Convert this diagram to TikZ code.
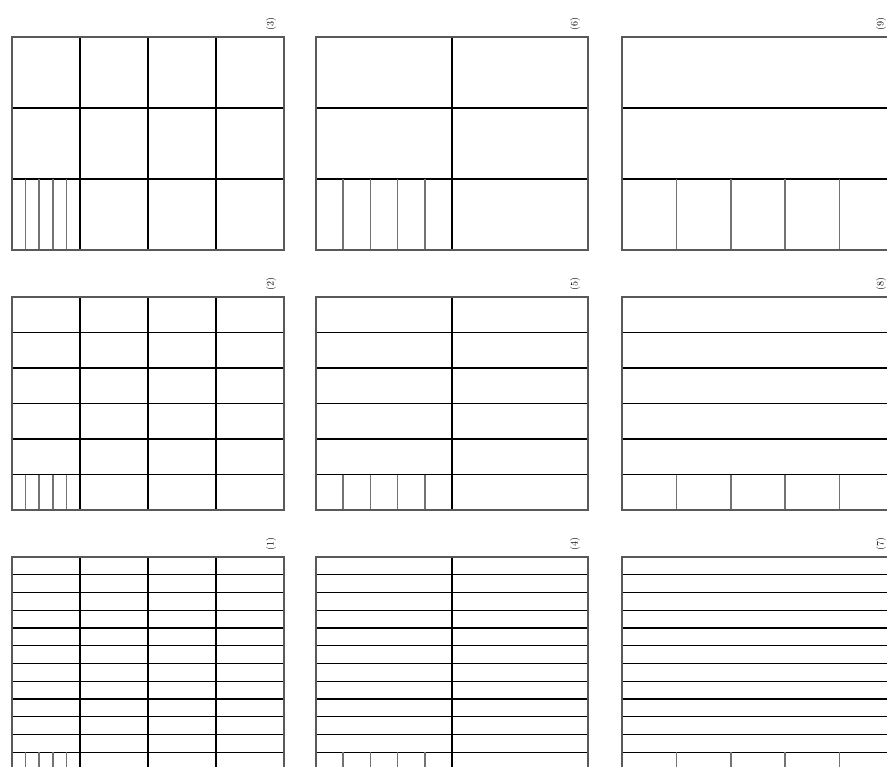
\documentclass[tikz,border=0pt]{standalone}
\usetikzlibrary{positioning}
\tikzset{
  frame/.style={draw=black!65, line width=1.9pt},
  gridline/.style={draw=black, line width=1.3pt},
  subline/.style={draw=black!55, line width=1.5pt},
  tag/.style={font=\normalsize, rotate=90, inner sep=1pt}
}
\begin{document}
\begin{tikzpicture}[x=1pt,y=-1pt]
\useasboundingbox (0,0) rectangle (887,767);
\clip (0,0) rectangle (887,767);
% panels: x, number of columns / y, number of rows
\foreach \ci/\x/\nc in {0/12/4,1/316/2,2/622/1}{
  \foreach \ri/\y/\nr in {0/37/3,1/297/6,2/557/12}{
    \pgfmathsetmacro{\cw}{272/\nc}
    \pgfmathsetmacro{\rh}{213/\nr}
    \pgfmathtruncatemacro{\nrm}{\nr-1}
    \pgfmathtruncatemacro{\num}{3*\ci+3-\ri}
    % rows
    \foreach \k in {1,...,\nrm}
      \draw[gridline] (\x,\y+\k*\rh) -- ++(272,0);
    % columns
    \foreach \k in {1,2,3}{
      \ifnum\k<\nc
        \draw[gridline] (\x+\k*\cw,\y) -- ++(0,213);
      \fi
    }
    % bottom left cell split in five
    \foreach \k in {1,...,4}
      \draw[subline] (\x+\k*\cw/5,\y+213-\rh) -- ++(0,\rh);
    \draw[frame] (\x,\y) rectangle ++(272,213);
    \node[tag] (lab-\ci-\ri) at (\x+259,\y-13) {(\num)};
  }
}
\end{tikzpicture}
\end{document}
